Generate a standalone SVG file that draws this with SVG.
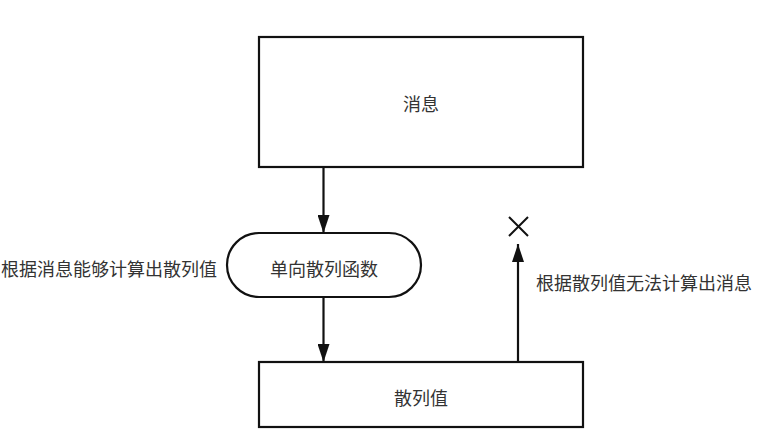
<svg xmlns="http://www.w3.org/2000/svg" width="757" height="444" viewBox="0 0 757 444">
<style>
.box{fill:#fff;stroke:#111;stroke-width:2.2}
.lbl{font-family:"Noto Sans CJK SC","Noto Sans",sans-serif;font-size:18px;fill:#333;text-anchor:middle;dominant-baseline:central}
.edge{stroke:#111;stroke-width:2.2;fill:none}
</style>
<defs>
<marker id="ah2" viewBox="0 0 18 12" refX="18" refY="6" markerWidth="18" markerHeight="12" markerUnits="userSpaceOnUse" orient="auto">
<path d="M0,0 L18,6 L0,12 z" fill="#111"/>
</marker>
</defs>
<rect width="757" height="444" fill="#fff"/>
<g id="message">
<rect class="box" x="259" y="37" width="324" height="130"/>
<text class="lbl" x="421" y="103">消息</text>
</g>
<g id="hashfunc">
<rect class="box" x="227" y="233" width="194" height="64" rx="32" ry="32"/>
<text class="lbl" x="324" y="268">单向散列函数</text>
</g>
<g id="hashvalue">
<rect class="box" x="259" y="362" width="324" height="65"/>
<text class="lbl" x="421" y="397">散列值</text>
</g>
<g id="connectors">
<line class="edge" x1="323.5" y1="167" x2="323.5" y2="233" marker-end="url(#ah2)"/>
<line class="edge" x1="323.5" y1="297" x2="323.5" y2="362" marker-end="url(#ah2)"/>
<line class="edge" x1="518" y1="362" x2="518" y2="244" marker-end="url(#ah2)"/>
</g>
<g id="cross">
<path d="M509,217 L528,236 M528,217 L509,236" stroke="#111" stroke-width="2" fill="none"/>
</g>
<g id="notes">
<text class="lbl" x="109" y="268">根据消息能够计算出散列值</text>
<text class="lbl" x="644" y="282">根据散列值无法计算出消息</text>
</g>
</svg>
